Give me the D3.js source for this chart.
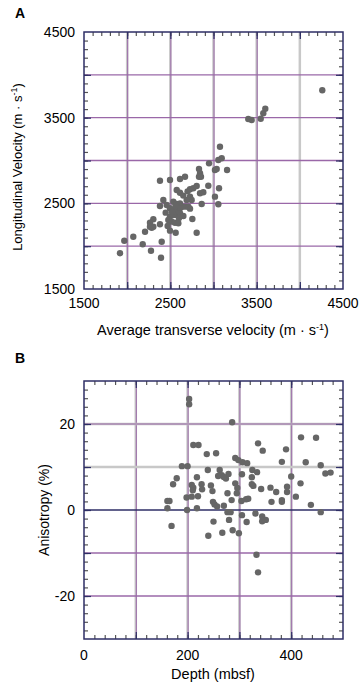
<!DOCTYPE html>
<html>
<head>
<meta charset="utf-8">
<script src="https://cdn.jsdelivr.net/npm/d3@7"></script>
<style>
  body { margin: 0; background: #fff; }
  text { font-family: "Liberation Sans", Arial, sans-serif; }
</style>
</head>
<body>
<div id="body"></div>
<script>
// Panel A: average transverse velocity vs longitudinal velocity (m/s)
var transverseVel = [4260, 3600, 3577, 3547, 3442, 3403, 3075, 3095, 3056, 2948, 3037, 3017, 3157,
  2832, 2844, 2832, 2670, 2612, 2496, 2380, 2855, 2940, 3064, 2574, 2612, 2728, 2766, 2805,
  2844, 2882, 2728, 2747, 2689, 3017, 2863, 3056, 2419, 2380, 2458, 2535, 2574, 2612, 2632,
  2496, 2535, 2574, 2612, 2670, 2709, 2728, 2446, 2496, 2535, 2574, 2612, 2651, 2477, 2516,
  2554, 2593, 2755, 2303, 2264, 2380, 2303, 2284, 2264, 2469, 2496, 2562, 2207, 2805, 2071,
  1967, 2180, 2400, 2276, 1917, 2392, 2520, 2600, 2560, 2650, 2700];
var longitudinalVel = [3820, 3604, 3551, 3488, 3473, 3484, 3161, 3026, 3006, 2967, 2901, 2889, 2889,
  2901, 2851, 2811, 2811, 2784, 2772, 2764, 2811, 2706, 2676, 2656, 2624, 2664, 2676, 2702,
  2617, 2629, 2578, 2539, 2539, 2578, 2492, 2489, 2539, 2469, 2480, 2519, 2492, 2500, 2461,
  2442, 2422, 2430, 2442, 2461, 2461, 2438, 2391, 2345, 2364, 2364, 2384, 2352, 2306, 2286,
  2274, 2267, 2317, 2314, 2274, 2255, 2227, 2215, 2227, 2235, 2181, 2157, 2169, 2157, 2110,
  2064, 2022, 2052, 1947, 1917, 1865, 2400, 2330, 2470, 2590, 2640];

// Panel B: depth (mbsf) vs anisotropy (%)
var depth = [203, 203, 286, 211, 221, 237, 255, 336, 345, 390, 419, 448, 428, 382, 292, 298, 306, 315,
  189, 200, 457, 466, 476, 400, 239, 179, 172, 218, 262, 266, 259, 279, 274, 270, 305, 325, 334,
  324, 208, 211, 210, 227, 228, 245, 248, 292, 296, 295, 324, 327, 342, 360, 371, 392, 392, 418,
  409, 277, 313, 317, 304, 285, 198, 208, 220, 161, 165, 161, 199, 218, 249, 252, 257, 270, 277,
  283, 362, 382, 382, 438, 457, 305, 331, 344, 351, 344, 250, 280, 314, 169, 287, 240, 267, 299,
  333, 336];
var anisotropy = [25.8, 24.6, 20.4, 15.1, 15.1, 13.0, 13.2, 15.5, 13.8, 14.1, 16.9, 16.8, 11.1, 11.2,
  12.1, 11.6, 11.1, 10.9, 10.2, 10.2, 10.4, 8.5, 8.7, 7.8, 9.3, 7.4, 6.0, 7.6, 9.3, 8.1, 7.9, 8.4,
  7.3, 7.7, 8.3, 9.3, 8.8, 7.6, 5.8, 5.2, 4.6, 6.0, 4.8, 5.7, 4.4, 6.2, 5.1, 3.9, 6.0, 5.6, 4.9,
  5.2, 4.2, 5.4, 4.2, 6.2, 3.1, 3.9, 2.5, 2.6, 2.1, 2.3, 2.9, 3.1, 3.2, 2.1, 2.1, 0.4, 0.0, 0.4,
  1.9, 1.3, 0.8, 1.0, -0.5, -0.5, 1.9, 1.9, 2.3, 1.2, -0.5, -1.2, -0.8, -1.5, -2.3, -2.6, -2.7,
  -2.3, -2.8, -3.7, -4.7, -6.0, -5.3, -5.4, -10.4, -14.5];

// tick labels
var velTickLabels = [1500, 2500, 3500, 4500];
var depthTickLabels = [0, 200, 400];
var anisoTickLabels = [-20, 0, 20];

var width = 361, height = 688;
var purple = '#9a68a8', grey = '#c8c8c8', navy = '#2e2e66', tickGrey = '#555';

var svg = d3.select('#body')
  .append('svg')
  .attr('width', width)
  .attr('height', height);

// inward ticks on all 4 sides
function drawTicks (g, x, y, minorX, minorY, majorX, majorY) {
  var x0 = x.range()[0], x1 = x.range()[1], y0 = y.range()[0], y1 = y.range()[1];
  function ticks (axis, tr, vals, size, color) {
    var a = g.append('g').attr('transform', tr)
      .call(axis.tickValues(vals).tickSize(size).tickFormat(''));
    a.select('.domain').remove();
    a.selectAll('line').attr('stroke', color).attr('stroke-width', 1.2);
  }
  ticks(d3.axisBottom(x), 'translate(0,' + y0 + ')', minorX, -4, tickGrey);
  ticks(d3.axisTop(x), 'translate(0,' + y1 + ')', minorX, -4, tickGrey);
  ticks(d3.axisLeft(y), 'translate(' + x0 + ',0)', minorY, -4, tickGrey);
  ticks(d3.axisRight(y), 'translate(' + x1 + ',0)', minorY, -4, tickGrey);
  ticks(d3.axisBottom(x), 'translate(0,' + y0 + ')', majorX, -7, navy);
  ticks(d3.axisTop(x), 'translate(0,' + y1 + ')', majorX, -7, navy);
  ticks(d3.axisLeft(y), 'translate(' + x0 + ',0)', majorY, -7, navy);
  ticks(d3.axisRight(y), 'translate(' + x1 + ',0)', majorY, -7, navy);

  g.append('rect')
    .attr('x', x0).attr('y', y1)
    .attr('width', x1 - x0).attr('height', y0 - y1)
    .attr('fill', 'none')
    .attr('stroke', navy)
    .attr('stroke-width', 1.5);
}

function vGrid (g, x, y, v, both) {
  var y0 = y.range()[0], y1 = y.range()[1];
  g.append('line').attr('x1', x(v)).attr('x2', x(v)).attr('y1', y0).attr('y2', y1)
    .attr('stroke', grey).attr('stroke-width', 2.5);
  if (both) {
    g.append('line').attr('x1', x(v) + 0.5).attr('x2', x(v) + 0.5).attr('y1', y0).attr('y2', y1)
      .attr('stroke', purple).attr('stroke-width', 1);
  }
}

function hGrid (g, x, y, v, color, w) {
  var x0 = x.range()[0], x1 = x.range()[1];
  g.append('line').attr('x1', x0).attr('x2', x1).attr('y1', y(v)).attr('y2', y(v))
    .attr('stroke', color).attr('stroke-width', w);
}

function unitText (sel, label) {
  sel.append('tspan').text(label + ' (m \u00b7 s');
  sel.append('tspan').attr('dy', -5).attr('font-size', '9px').text('-1');
  sel.append('tspan').attr('dy', 5).text(')');
}

// ---------- panel A ----------
var xA = d3.scaleLinear().domain([1500, 4500]).range([84, 343]);
var yA = d3.scaleLinear().domain([1500, 4500]).range([289, 32]);
var gA = svg.append('g');

[2000, 2500, 3000, 3500].forEach(function (v) { vGrid(gA, xA, yA, v, true); });
vGrid(gA, xA, yA, 4000, false);
[2000, 2500, 3000, 3500, 4000].forEach(function (v) { hGrid(gA, xA, yA, v, purple, 1.3); });

drawTicks(gA, xA, yA, d3.range(1600, 4500, 100), d3.range(1600, 4500, 100),
  d3.range(2000, 4500, 500), d3.range(2000, 4500, 500));

gA.selectAll('.dotA')
  .data(transverseVel)
  .enter()
  .append('circle')
  .attr('class', 'dotA')
  .attr('cx', function (d) { return xA(d); })
  .attr('cy', function (d, i) { return yA(longitudinalVel[i]); })
  .attr('r', 3.2)
  .attr('fill', '#666');

gA.selectAll('.xlabA')
  .data(velTickLabels).enter().append('text')
  .attr('x', function (d) { return xA(d); })
  .attr('y', 308)
  .attr('text-anchor', 'middle')
  .attr('font-size', '14px')
  .text(function (d) { return d; });

gA.selectAll('.ylabA')
  .data(velTickLabels).enter().append('text')
  .attr('x', 75)
  .attr('y', function (d) { return yA(d) + 5; })
  .attr('text-anchor', 'end')
  .attr('font-size', '14px')
  .text(function (d) { return d; });

gA.append('text')
  .attr('x', 213).attr('y', 335)
  .attr('text-anchor', 'middle')
  .attr('font-size', '14.5px')
  .call(unitText, 'Average transverse velocity');

gA.append('text')
  .attr('transform', 'translate(22,167) rotate(-90)')
  .attr('text-anchor', 'middle')
  .attr('font-size', '13px')
  .call(unitText, 'Longitudinal Velocity');

svg.append('text')
  .attr('x', 15).attr('y', 18)
  .attr('font-size', '14px').attr('font-weight', 'bold')
  .text('A');

// ---------- panel B ----------
var xB = d3.scaleLinear().domain([0, 500]).range([84, 343]);
var yB = d3.scaleLinear().domain([-30, 30]).range([639, 381]);
var gB = svg.append('g');

[100, 200, 300, 400].forEach(function (v) { vGrid(gB, xB, yB, v, true); });
hGrid(gB, xB, yB, 20, grey, 2.5);
hGrid(gB, xB, yB, 20, purple, 1);
hGrid(gB, xB, yB, 10, grey, 2.5);
hGrid(gB, xB, yB, -10, purple, 1.3);
hGrid(gB, xB, yB, -20, purple, 1.3);
hGrid(gB, xB, yB, 0, navy, 1.3);

drawTicks(gB, xB, yB, d3.range(20, 500, 20), d3.range(-28, 30, 2),
  d3.range(100, 500, 100), d3.range(-20, 30, 10));

gB.selectAll('.dotB')
  .data(depth)
  .enter()
  .append('circle')
  .attr('class', 'dotB')
  .attr('cx', function (d) { return xB(d); })
  .attr('cy', function (d, i) { return yB(anisotropy[i]); })
  .attr('r', 3.2)
  .attr('fill', '#666');

gB.selectAll('.xlabB')
  .data(depthTickLabels).enter().append('text')
  .attr('x', function (d) { return xB(d); })
  .attr('y', 660)
  .attr('text-anchor', 'middle')
  .attr('font-size', '14px')
  .text(function (d) { return d; });

gB.selectAll('.ylabB')
  .data(anisoTickLabels).enter().append('text')
  .attr('x', 75)
  .attr('y', function (d) { return yB(d) + 5; })
  .attr('text-anchor', 'end')
  .attr('font-size', '14px')
  .text(function (d) { return d; });

gB.append('text')
  .attr('x', 213).attr('y', 679)
  .attr('text-anchor', 'middle')
  .attr('font-size', '14.5px')
  .text('Depth (mbsf)');

gB.append('text')
  .attr('transform', 'translate(49,510) rotate(-90)')
  .attr('text-anchor', 'middle')
  .attr('font-size', '14px')
  .text('Anisotropy (%)');

svg.append('text')
  .attr('x', 15).attr('y', 363)
  .attr('font-size', '14px').attr('font-weight', 'bold')
  .text('B');
</script>
</body>
</html>
